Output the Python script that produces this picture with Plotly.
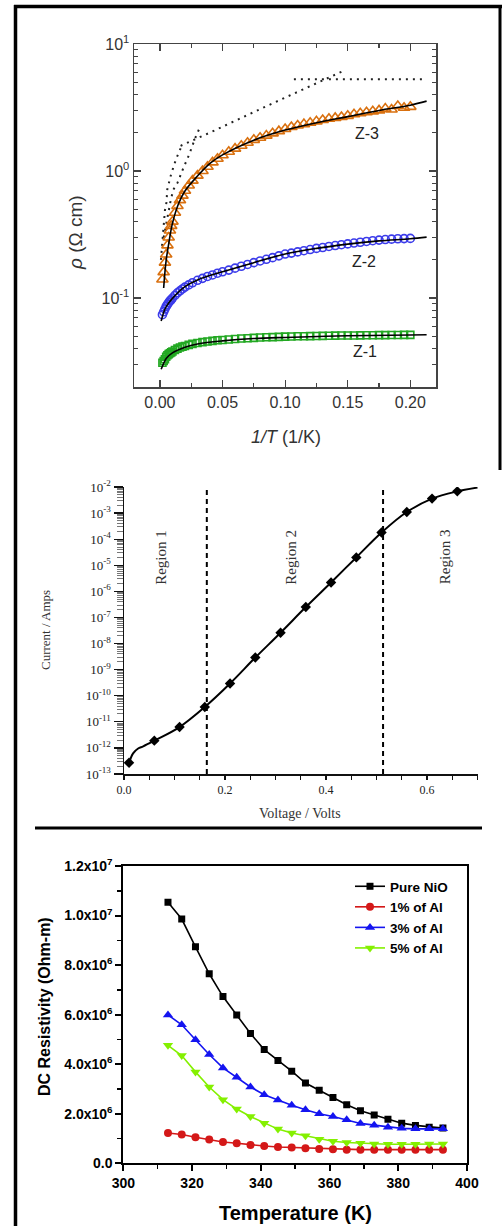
import math
import plotly.graph_objects as go

W, H = 503, 1226


def px(x):
    return x / W


def py(y):
    return 1 - y / H


# ---------------- Panel 1 : rho vs 1/T ----------------
X_DATA = [0.002, 0.003, 0.004, 0.005, 0.006, 0.007, 0.008, 0.009, 0.010, 0.012,
          0.014, 0.016, 0.018, 0.020, 0.023, 0.026, 0.030, 0.034, 0.038, 0.042,
          0.046, 0.050, 0.055, 0.060, 0.065, 0.070, 0.075, 0.080, 0.085, 0.090,
          0.095, 0.100, 0.105, 0.110, 0.115, 0.120, 0.125, 0.130, 0.135, 0.140,
          0.145, 0.150, 0.155, 0.160, 0.165, 0.170, 0.175, 0.180, 0.185, 0.190,
          0.195, 0.200]
Z3_RHO = [0.14, 0.16, 0.19, 0.22, 0.26, 0.30, 0.34, 0.37, 0.40, 0.47,
          0.53, 0.59, 0.64, 0.70, 0.77, 0.84, 0.92, 1.00, 1.08, 1.17,
          1.25, 1.33, 1.42, 1.50, 1.58, 1.67, 1.76, 1.83, 1.90, 1.98,
          2.06, 2.14, 2.22, 2.28, 2.34, 2.40, 2.46, 2.52, 2.58, 2.62,
          2.66, 2.72, 2.80, 2.85, 2.90, 2.95, 3.00, 3.10, 3.05, 3.25,
          3.15, 3.20]
Z2_RHO = [0.074, 0.078, 0.082, 0.086, 0.089, 0.092, 0.095, 0.097, 0.100, 0.105,
          0.110, 0.114, 0.118, 0.122, 0.127, 0.132, 0.138, 0.143, 0.148, 0.152,
          0.157, 0.161, 0.166, 0.172, 0.178, 0.184, 0.190, 0.196, 0.202, 0.208,
          0.215, 0.222, 0.226, 0.231, 0.236, 0.241, 0.246, 0.250, 0.255, 0.259,
          0.263, 0.267, 0.271, 0.275, 0.279, 0.283, 0.286, 0.289, 0.291, 0.293,
          0.294, 0.295]
Z1_RHO = [0.031, 0.032, 0.033, 0.0345, 0.0355, 0.0362, 0.0368, 0.0374, 0.038, 0.039,
          0.040, 0.0408, 0.0415, 0.042, 0.0428, 0.0436, 0.0443, 0.045, 0.0455, 0.046,
          0.0465, 0.0468, 0.0472, 0.0476, 0.048, 0.0483, 0.0486, 0.0489, 0.0491, 0.0493,
          0.0495, 0.0497, 0.0498, 0.050, 0.0501, 0.0502, 0.0503, 0.0504, 0.0505, 0.0506,
          0.0507, 0.0508, 0.0508, 0.0509, 0.051, 0.051, 0.0511, 0.0511, 0.0512, 0.0512,
          0.0513, 0.0513]

FIT3_X = [0.003, 0.004, 0.005, 0.0075, 0.01, 0.015, 0.02, 0.03, 0.04, 0.05,
          0.075, 0.1, 0.125, 0.15, 0.175, 0.2, 0.213]
FIT3_Y = [0.12, 0.16, 0.199, 0.286, 0.387, 0.557, 0.697, 0.914, 1.15, 1.34,
          1.75, 2.10, 2.40, 2.68, 3.00, 3.30, 3.55]
FIT2_X = [0.001, 0.003, 0.005, 0.01, 0.02, 0.03, 0.05, 0.075, 0.1, 0.125,
          0.15, 0.175, 0.2, 0.213]
FIT2_Y = [0.066, 0.077, 0.0855, 0.0995, 0.123, 0.139, 0.161, 0.19, 0.222, 0.246,
          0.266, 0.282, 0.293, 0.302]
FIT1_X = [0.001, 0.003, 0.005, 0.01, 0.02, 0.03, 0.05, 0.075, 0.1, 0.15, 0.2, 0.213]
FIT1_Y = [0.0275, 0.0306, 0.0335, 0.037, 0.041, 0.0435, 0.046, 0.048, 0.049,
          0.0505, 0.0512, 0.0515]

DOT_A_X = [0.003, 0.0055, 0.0085, 0.0106, 0.0141, 0.0186, 0.0234, 0.0279, 0.0327]
DOT_A_Y = [0.30, 0.42, 0.58, 0.71, 0.81, 1.05, 1.35, 1.79, 2.30]
DOT_B_X = [0.0008, 0.0022, 0.0032, 0.004, 0.0053, 0.0058, 0.009, 0.013, 0.0173]
DOT_B_Y = [0.20, 0.29, 0.376, 0.49, 0.57, 0.71, 0.95, 1.25, 1.57]
DOT_C_X = [0.0165, 0.0406, 0.080, 0.120, 0.147]
DOT_C_Y = [1.58, 2.02, 3.07, 4.66, 6.17]
DOT_D_X = [0.107, 0.213]
DOT_D_Y = [5.27, 5.27]

SAMPLE_LABELS = ["Z-3", "Z-2", "Z-1"]
SAMPLE_LABEL_X = [0.165, 0.163, 0.164]
SAMPLE_LABEL_Y = [1.98, 0.193, 0.0378]

# ---------------- Panel 2 : I-V ----------------
V_PTS = [0.01, 0.06, 0.11, 0.16, 0.21, 0.26, 0.31, 0.36, 0.41, 0.46, 0.51, 0.56, 0.61, 0.66]
I_PTS = [2.7e-13, 1.9e-12, 6.3e-12, 3.7e-11, 2.95e-10, 2.9e-9, 2.6e-8, 2.5e-7,
         2.2e-6, 2.0e-5, 1.8e-4, 1.1e-3, 3.6e-3, 6.8e-3]
V_CURVE = [0.01, 0.018, 0.028, 0.038, 0.06, 0.11, 0.16, 0.21, 0.26, 0.31, 0.36,
           0.41, 0.46, 0.51, 0.56, 0.61, 0.66, 0.70]
I_CURVE = [2.7e-13, 6.2e-13, 9.5e-13, 1.15e-12, 1.9e-12, 6.3e-12, 3.7e-11, 2.95e-10,
           2.9e-9, 2.6e-8, 2.5e-7, 2.2e-6, 2.0e-5, 1.8e-4, 1.1e-3, 3.6e-3, 6.8e-3, 9.5e-3]
REGION_BOUNDS = [0.164, 0.513]
REGION_NAMES = ["Region 1", "Region 2", "Region 3"]
REGION_X = [0.073, 0.330, 0.636]
I_EXPONENTS = [-2, -3, -4, -5, -6, -7, -8, -9, -10, -11, -12, -13]

# ---------------- Panel 3 : DC resistivity ----------------
TEMP_K = [313, 317, 321, 325, 329, 333, 337, 341, 345, 349, 353, 357, 361, 365,
          369, 373, 377, 381, 385, 389, 393]
PURE_NIO = [10.54, 9.86, 8.74, 7.65, 6.73, 5.99, 5.24, 4.59, 4.15, 3.72, 3.24,
            2.95, 2.66, 2.36, 2.12, 1.95, 1.78, 1.62, 1.53, 1.46, 1.42]
AL_1 = [1.22, 1.16, 1.05, 0.96, 0.86, 0.81, 0.74, 0.70, 0.66, 0.64, 0.61,
        0.58, 0.57, 0.55, 0.55, 0.55, 0.55, 0.55, 0.55, 0.55, 0.55]
AL_3 = [5.99, 5.59, 4.99, 4.39, 3.85, 3.47, 3.08, 2.77, 2.55, 2.34, 2.16,
        2.00, 1.89, 1.76, 1.61, 1.54, 1.46, 1.41, 1.39, 1.39, 1.39]
AL_5 = [4.76, 4.35, 3.69, 3.08, 2.57, 2.19, 1.89, 1.62, 1.38, 1.22, 1.11,
        0.97, 0.89, 0.84, 0.81, 0.78, 0.77, 0.77, 0.77, 0.78, 0.78]
SERIES3 = [("Pure NiO", PURE_NIO, "#000000", "square", 7),
           ("1% of Al", AL_1, "#d41818", "circle", 8),
           ("3% of Al", AL_3, "#1414f0", "triangle-up", 9),
           ("5% of Al", AL_5, "#84f000", "triangle-down", 9)]
Y3_TICKS = [0, 2, 4, 6, 8, 10, 12]
Y3_LABELS = ["0.0", "2.0x10<sup>6</sup>", "4.0x10<sup>6</sup>", "6.0x10<sup>6</sup>",
             "8.0x10<sup>6</sup>", "1.0x10<sup>7</sup>", "1.2x10<sup>7</sup>"]

SANS = "Liberation Sans, Arial, sans-serif"
SERIF = "Liberation Serif, Times New Roman, serif"

fig = go.Figure()

# ---- panel 1 traces
for xs, ys in [(DOT_A_X, DOT_A_Y), (DOT_B_X, DOT_B_Y), (DOT_C_X, DOT_C_Y), (DOT_D_X, DOT_D_Y)]:
    fig.add_trace(go.Scatter(x=xs, y=ys, mode="lines", xaxis="x", yaxis="y",
                             line=dict(color="#222222", width=2, dash="2px,5px"),
                             showlegend=False, hoverinfo="skip"))

fig.add_trace(go.Scatter(x=X_DATA, y=Z3_RHO, mode="markers", xaxis="x", yaxis="y",
                         marker=dict(symbol="triangle-up-open", size=10, color="#d9700f",
                                     line=dict(width=1.6, color="#d9700f")),
                         showlegend=False))
fig.add_trace(go.Scatter(x=X_DATA, y=Z2_RHO, mode="markers", xaxis="x", yaxis="y",
                         marker=dict(symbol="circle-open", size=8, color="#3b3bea",
                                     line=dict(width=1.6, color="#3b3bea")),
                         showlegend=False))
fig.add_trace(go.Scatter(x=X_DATA, y=Z1_RHO, mode="markers", xaxis="x", yaxis="y",
                         marker=dict(symbol="square-open", size=7, color="#22a822",
                                     line=dict(width=1.6, color="#22a822")),
                         showlegend=False))
for fx, fy in [(FIT3_X, FIT3_Y), (FIT2_X, FIT2_Y), (FIT1_X, FIT1_Y)]:
    fig.add_trace(go.Scatter(x=fx, y=fy, mode="lines", xaxis="x", yaxis="y",
                             line=dict(color="#000000", width=1.6, shape="spline"),
                             showlegend=False))

# ---- panel 2 traces
for vb in REGION_BOUNDS:
    fig.add_trace(go.Scatter(x=[vb, vb], y=[1e-13, 1e-2], mode="lines", xaxis="x2", yaxis="y2",
                             line=dict(color="#000000", width=2, dash="5px,4px"),
                             showlegend=False, hoverinfo="skip"))
fig.add_trace(go.Scatter(x=V_CURVE, y=I_CURVE, mode="lines", xaxis="x2", yaxis="y2",
                         line=dict(color="#000000", width=2, shape="spline"),
                         showlegend=False))
fig.add_trace(go.Scatter(x=V_PTS, y=I_PTS, mode="markers", xaxis="x2", yaxis="y2",
                         marker=dict(symbol="diamond", size=8, color="#000000"),
                         showlegend=False))

# ---- panel 3 traces
for name, vals, col, sym, sz in SERIES3:
    fig.add_trace(go.Scatter(x=TEMP_K, y=[v * 1e6 for v in vals], mode="lines+markers",
                             name=name, xaxis="x3", yaxis="y3",
                             line=dict(color=col, width=1.6),
                             marker=dict(symbol=sym, size=sz, color=col)))

minor_log1 = [m * 10.0 ** e for e in (-2, -1, 0) for m in range(2, 10)]
minor_log2 = [m * 10.0 ** e for e in range(-13, -2) for m in range(2, 10)]

ax1_common = dict(showline=True, linecolor="#444444", linewidth=1.5, mirror="allticks",
                  ticks="inside", ticklen=7, tickwidth=1.2, tickcolor="#444444",
                  showgrid=False, zeroline=False, automargin=False,
                  tickfont=dict(family=SANS, size=16, color="#333333"))

fig.update_layout(
    width=W, height=H, autosize=False,
    margin=dict(l=0, r=0, t=0, b=0, pad=0, autoexpand=False),
    paper_bgcolor="white", plot_bgcolor="white",
    hovermode=False,
    xaxis=dict(domain=[px(134), px(436)], anchor="y", range=[-0.0207, 0.2205],
               tickvals=[0, 0.05, 0.10, 0.15, 0.20],
               ticktext=["0.00", "0.05", "0.10", "0.15", "0.20"],
               minor=dict(ticks="inside", ticklen=4, dtick=0.025, tick0=0,
                          tickcolor="#444444", showgrid=False),
               **ax1_common),
    yaxis=dict(domain=[py(387), py(44)], anchor="x", type="log", range=[-1.70, 1.0],
               tickvals=[0.1, 1, 10],
               ticktext=["10<sup>-1</sup>", "10<sup>0</sup>", "10<sup>1</sup>"],
               minor=dict(ticks="inside", ticklen=4, tickvals=minor_log1,
                          tickcolor="#444444", showgrid=False),
               **ax1_common),
    xaxis2=dict(domain=[px(124), px(478)], anchor="y2", range=[0, 0.701],
                tickvals=[0, 0.2, 0.4, 0.6], ticktext=["0.0", "0.2", "0.4", "0.6"],
                showline=True, linecolor="#111111", linewidth=1.5, ticks="outside",
                ticklen=4, tickwidth=1.2, tickcolor="#111111", automargin=False,
                minor=dict(ticks="outside", ticklen=4, dtick=0.05, tick0=0,
                           tickcolor="#111111", showgrid=False),
                showgrid=False, zeroline=False,
                tickfont=dict(family=SERIF, size=12, color="#222222")),
    yaxis2=dict(domain=[py(774), py(487)], anchor="x2", type="log", range=[-13, -2],
                tickvals=[10.0 ** e for e in I_EXPONENTS],
                ticktext=["10<sup>%d</sup>" % e for e in I_EXPONENTS],
                showline=True, linecolor="#111111", linewidth=1.5, ticks="outside",
                ticklen=9, tickwidth=1.2, tickcolor="#111111", automargin=False,
                minor=dict(ticks="outside", ticklen=6, tickvals=minor_log2,
                           tickcolor="#555555", tickwidth=0.8, showgrid=False),
                showgrid=False, zeroline=False,
                tickfont=dict(family=SERIF, size=13, color="#222222")),
    xaxis3=dict(domain=[px(123.3), px(467)], anchor="y3", range=[300, 400],
                tickvals=[300, 320, 340, 360, 380, 400],
                showline=True, linecolor="#000000", linewidth=2, mirror=True,
                ticks="outside", ticklen=6, tickwidth=2, tickcolor="#000000",
                automargin=False,
                minor=dict(ticks="outside", ticklen=4, dtick=10, tick0=300,
                           tickwidth=1.5, tickcolor="#000000", showgrid=False),
                showgrid=False, zeroline=False,
                tickfont=dict(family=SANS, size=14, color="#000000", weight="bold")),
    yaxis3=dict(domain=[py(1163.3), py(866)], anchor="x3", range=[0, 1.2e7],
                tickvals=[v * 1e6 for v in Y3_TICKS], ticktext=Y3_LABELS,
                showline=True, linecolor="#000000", linewidth=2, mirror=True,
                ticks="outside", ticklen=6, tickwidth=2, tickcolor="#000000",
                automargin=False,
                minor=dict(ticks="outside", ticklen=4, dtick=1e6, tick0=0,
                           tickwidth=1.5, tickcolor="#000000", showgrid=False),
                showgrid=False, zeroline=False,
                tickfont=dict(family=SANS, size=14, color="#000000", weight="bold")),
    legend=dict(x=px(350), y=py(871), xanchor="left", yanchor="top",
                bgcolor="rgba(0,0,0,0)", borderwidth=0, tracegroupgap=0,
                itemwidth=30,
                font=dict(family=SANS, size=13.5, color="#000000", weight="bold")),
    showlegend=True,
)


def note(x, y, text, font, xref="paper", yref="paper", angle=0):
    return dict(x=x, y=y, xref=xref, yref=yref, text=text, showarrow=False,
                textangle=angle, xanchor="center", yanchor="middle", font=font)


ann = []
# panel 1 titles
ann.append(note(px(75), py(233), "<i>ρ</i> (Ω cm)",
                dict(family=SANS, size=19, color="#333333"), angle=-90))
ann.append(note(px(286), py(437), "<i>1/T</i> (1/K)",
                dict(family=SANS, size=18, color="#333333")))
for lab, lx, ly in zip(SAMPLE_LABELS, SAMPLE_LABEL_X, SAMPLE_LABEL_Y):
    ann.append(note(lx, math.log10(ly), lab, dict(family=SANS, size=16, color="#222222"),
                    xref="x", yref="y"))
# panel 2 titles
ann.append(note(px(45), py(630), "Current / Amps",
                dict(family=SERIF, size=13, color="#333333"), angle=-90))
ann.append(note(px(300), py(813), "Voltage / Volts",
                dict(family=SERIF, size=14, color="#333333")))
for name, rx in zip(REGION_NAMES, REGION_X):
    ann.append(note(rx, py(557), name, dict(family=SERIF, size=15, color="#333333"),
                    xref="x2", angle=-90))
# panel 3 titles
ann.append(note(px(45), py(1007), "DC Resistivity (Ohm-m)",
                dict(family=SANS, size=16, color="#000000", weight="bold"), angle=-90))
ann.append(note(px(295), py(1213), "Temperature (K)",
                dict(family=SANS, size=20, color="#000000", weight="bold")))
fig.update_layout(annotations=ann)

# frame and separator
shapes = [
    dict(type="line", xref="paper", yref="paper", x0=px(14), x1=px(502), y0=py(6.5), y1=py(6.5),
         layer="above", line=dict(color="#000000", width=3.5)),
    dict(type="line", xref="paper", yref="paper", x0=px(15.5), x1=px(15.5), y0=py(5), y1=py(1226),
         layer="above", line=dict(color="#000000", width=3.5)),
    dict(type="line", xref="paper", yref="paper", x0=px(500), x1=px(500), y0=py(5), y1=py(470),
         layer="above", line=dict(color="#000000", width=3)),
    dict(type="line", xref="paper", yref="paper", x0=px(35), x1=px(482), y0=py(828), y1=py(828),
         layer="above", line=dict(color="#000000", width=3)),
]
fig.update_layout(shapes=shapes)

fig.write_html(
    "out.html",
    config={"displayModeBar": False, "staticPlot": True},
    post_script="document.body.style.margin='0px';document.body.style.overflow='hidden';",
)
